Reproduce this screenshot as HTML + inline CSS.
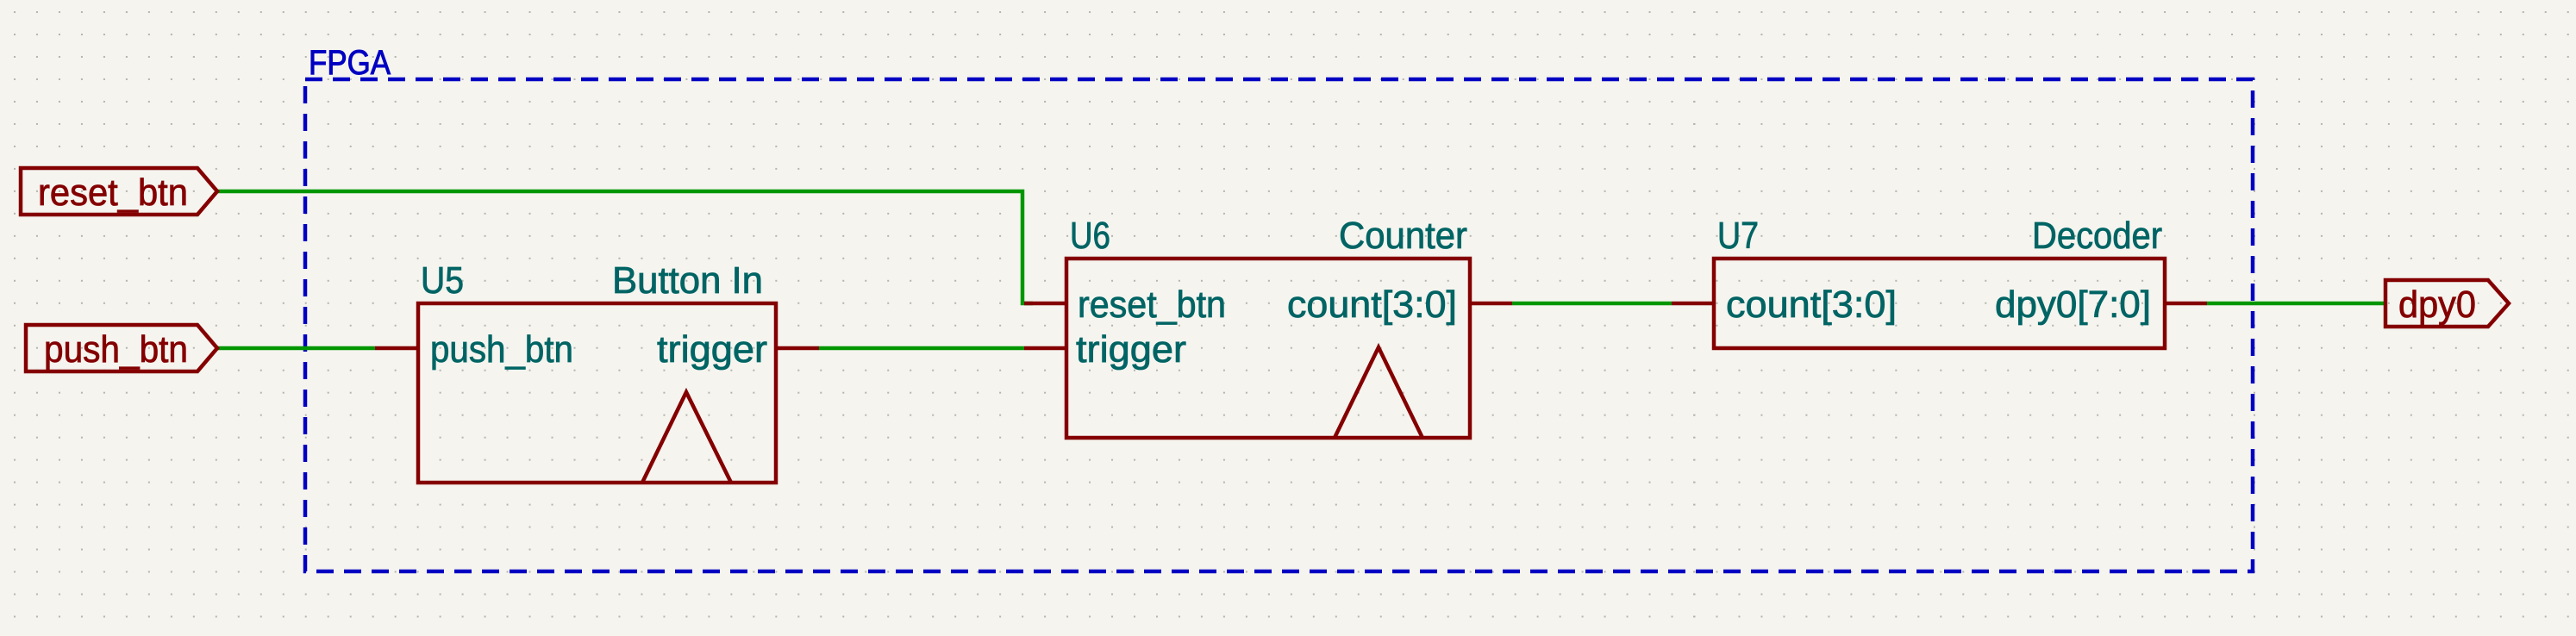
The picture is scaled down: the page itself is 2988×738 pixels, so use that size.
<!DOCTYPE html>
<html><head><meta charset="utf-8"><style>
html,body{margin:0;padding:0;background:#f5f4ef;}
svg{display:block;}
text{font-family:"Liberation Sans Narrow","Liberation Sans",sans-serif;}
</style></head><body>
<svg width="2988" height="738" viewBox="0 0 2988 738" xmlns="http://www.w3.org/2000/svg">
<defs>
<pattern id="g" x="16" y="65" width="25.98" height="25.98" patternUnits="userSpaceOnUse">
<rect x="0" y="0" width="2" height="2" fill="#b4b4b0"/>
</pattern>
</defs>
<rect width="2988" height="738" fill="#f5f4ef"/>
<rect width="2988" height="738" fill="url(#g)"/>

<rect x="354" y="92" width="2259" height="571" fill="none" stroke="#0000c2" stroke-width="4.5" stroke-dasharray="20 12"/>
<text x="358" y="86" font-size="40" fill="#0000c2" stroke="#0000c2" stroke-width="1" textLength="95" lengthAdjust="spacingAndGlyphs">FPGA</text>

<g fill="none" stroke-width="4.5">
<polyline points="252,222 1186,222 1186,352 1198,352" stroke="#009600"/>
<line x1="1188" y1="352" x2="1237" y2="352" stroke="#840000"/>
<line x1="252" y1="404" x2="435" y2="404" stroke="#009600"/>
<line x1="435" y1="404" x2="485" y2="404" stroke="#840000"/>
<line x1="900" y1="404" x2="950" y2="404" stroke="#840000"/>
<line x1="950" y1="404" x2="1188" y2="404" stroke="#009600"/>
<line x1="1188" y1="404" x2="1237" y2="404" stroke="#840000"/>
<line x1="1705" y1="352" x2="1754" y2="352" stroke="#840000"/>
<line x1="1754" y1="352" x2="1939" y2="352" stroke="#009600"/>
<line x1="1939" y1="352" x2="1988" y2="352" stroke="#840000"/>
<line x1="2511" y1="352" x2="2560" y2="352" stroke="#840000"/>
<line x1="2560" y1="352" x2="2767" y2="352" stroke="#009600"/>

<polygon points="24,195 229,195 252,222 229,249 24,249" stroke="#840000"/>
<polygon points="30,377 229,377 252,404 229,431 30,431" stroke="#840000"/>
<polygon points="2767,325 2886,325 2910,352 2886,379 2767,379" stroke="#840000"/>

<rect x="485" y="352" width="415" height="208" stroke="#840000"/>
<polyline points="745,560 796,455 848,560" stroke="#840000"/>
<rect x="1237" y="300" width="468" height="208" stroke="#840000"/>
<polyline points="1548,508 1599,403 1650,508" stroke="#840000"/>
<rect x="1988" y="300" width="523" height="104" stroke="#840000"/>
</g>

<g font-size="44" fill="#840000" stroke="#840000" stroke-width="0.8">
<text x="44" y="238" textLength="174" lengthAdjust="spacingAndGlyphs">reset_btn</text>
<text x="51" y="420" textLength="167" lengthAdjust="spacingAndGlyphs">push_btn</text>
<text x="2782" y="368" textLength="90" lengthAdjust="spacingAndGlyphs">dpy0</text>
</g>

<g font-size="44" fill="#006464" stroke="#006464" stroke-width="0.8">
<text x="488" y="340" textLength="50" lengthAdjust="spacingAndGlyphs">U5</text>
<text x="710" y="340" textLength="175" lengthAdjust="spacingAndGlyphs">Button In</text>
<text x="499" y="420" textLength="166" lengthAdjust="spacingAndGlyphs">push_btn</text>
<text x="762" y="420" textLength="128" lengthAdjust="spacingAndGlyphs">trigger</text>

<text x="1241" y="288" textLength="47" lengthAdjust="spacingAndGlyphs">U6</text>
<text x="1553" y="288" textLength="149" lengthAdjust="spacingAndGlyphs">Counter</text>
<text x="1250" y="368" textLength="172" lengthAdjust="spacingAndGlyphs">reset_btn</text>
<text x="1493" y="368" textLength="197" lengthAdjust="spacingAndGlyphs">count[3:0]</text>
<text x="1248" y="420" textLength="128" lengthAdjust="spacingAndGlyphs">trigger</text>

<text x="1992" y="288" textLength="48" lengthAdjust="spacingAndGlyphs">U7</text>
<text x="2357" y="288" textLength="151" lengthAdjust="spacingAndGlyphs">Decoder</text>
<text x="2002" y="368" textLength="198" lengthAdjust="spacingAndGlyphs">count[3:0]</text>
<text x="2314" y="368" textLength="181" lengthAdjust="spacingAndGlyphs">dpy0[7:0]</text>
</g>
</svg>
</body></html>
